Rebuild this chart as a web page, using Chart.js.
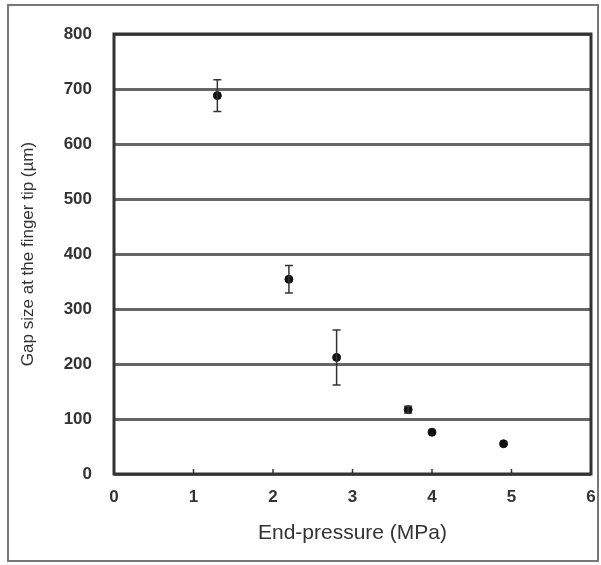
<!DOCTYPE html>
<html>
<head>
<style>
    body { margin: 0; background: #fff; }
    #wrap { width: 601px; height: 565px; }
</style>
</head>
<body>
<div id="wrap"><canvas id="myChart" width="601" height="565"></canvas></div>
<script src="https://cdn.jsdelivr.net/npm/chart.js"></script>
<script>
    // values
    const pressure = [1.3, 2.2, 2.8, 3.7, 4.0, 4.9]
    const gapSize = [688, 354, 212, 117, 76, 55]
    const gapError = [29, 25, 50, 6, 0, 0]
    const xTicks = [0, 1, 2, 3, 4, 5, 6]
    const yTicks = [0, 100, 200, 300, 400, 500, 600, 700, 800]

    const points = pressure.map((p, i) => ({ x: p, y: gapSize[i] }))

    // outer frame + box round the plot + small inward ticks on x axis
    const framePlugin = {
        id: 'frame',
        beforeDraw(chart) {
            const ctx = chart.ctx
            ctx.save()
            ctx.fillStyle = '#fff'
            ctx.fillRect(0, 0, chart.width, chart.height)
            ctx.strokeStyle = '#777'
            ctx.lineWidth = 2
            ctx.strokeRect(8, 5, 590, 556)
            ctx.restore()
        },
        afterDatasetsDraw(chart) {
            const ctx = chart.ctx
            const area = chart.chartArea
            const xs = chart.scales.x
            ctx.save()
            ctx.strokeStyle = '#333'
            ctx.lineWidth = 3
            ctx.strokeRect(area.left, area.top, area.right - area.left, area.bottom - area.top)
            ctx.lineWidth = 1.5
            xTicks.forEach(t => {
                const px = xs.getPixelForValue(t)
                ctx.beginPath()
                ctx.moveTo(px, area.bottom)
                ctx.lineTo(px, area.bottom - 5)
                ctx.stroke()
            })
            ctx.restore()
        }
    }

    // vertical error bars with caps
    const errorBarPlugin = {
        id: 'errorBars',
        afterDatasetsDraw(chart) {
            const ctx = chart.ctx
            const xs = chart.scales.x
            const ys = chart.scales.y
            ctx.save()
            ctx.strokeStyle = '#333'
            ctx.lineWidth = 1.5
            pressure.forEach((p, i) => {
                const e = gapError[i]
                if (!e) return
                const px = xs.getPixelForValue(p)
                const top = ys.getPixelForValue(gapSize[i] + e)
                const bottom = ys.getPixelForValue(gapSize[i] - e)
                ctx.beginPath()
                ctx.moveTo(px, top)
                ctx.lineTo(px, bottom)
                ctx.moveTo(px - 4, top)
                ctx.lineTo(px + 4, top)
                ctx.moveTo(px - 4, bottom)
                ctx.lineTo(px + 4, bottom)
                ctx.stroke()
            })
            ctx.restore()
        }
    }

    const tickFont = { family: 'Liberation Sans', size: 17, weight: 'bold' }

    const chart = new Chart(document.getElementById('myChart').getContext('2d'), {
        type: 'scatter',
        data: {
            datasets: [{
                data: points,
                backgroundColor: '#111',
                borderColor: '#111',
                pointRadius: 4,
                pointHoverRadius: 4
            }]
        },
        options: {
            responsive: false,
            animation: false,
            layout: { padding: { left: 0, top: 34, right: 10, bottom: 0 } },
            plugins: { legend: { display: false }, tooltip: { enabled: false } },
            scales: {
                x: {
                    type: 'linear',
                    min: 0,
                    max: 6,
                    afterBuildTicks: s => { s.ticks = xTicks.map(v => ({ value: v })) },
                    afterFit: s => {
                        s.height = 91
                        s.paddingLeft = 0
                        s.paddingRight = 0
                    },
                    grid: { display: false, drawTicks: false },
                    border: { display: false },
                    ticks: { color: '#333', font: tickFont, padding: 13, maxRotation: 0 },
                    title: {
                        display: true,
                        text: 'End-pressure (MPa)',
                        color: '#333',
                        font: { family: 'Liberation Sans', size: 21 },
                        padding: { top: 0, bottom: 19 }
                    }
                },
                y: {
                    type: 'linear',
                    min: 0,
                    max: 800,
                    afterBuildTicks: s => { s.ticks = yTicks.map(v => ({ value: v })) },
                    afterFit: s => {
                        s.width = 114
                        s.paddingTop = 0
                        s.paddingBottom = 0
                    },
                    grid: { color: '#666', lineWidth: 3, drawTicks: false },
                    border: { display: false },
                    ticks: { color: '#333', font: tickFont, padding: 22 },
                    title: {
                        display: true,
                        text: 'Gap size at the finger tip (\u00b5m)',
                        color: '#333',
                        font: { family: 'Liberation Sans', size: 17 },
                        padding: { top: 18, bottom: 0 }
                    }
                }
            }
        },
        plugins: [framePlugin, errorBarPlugin]
    })
</script>
</body>
</html>
